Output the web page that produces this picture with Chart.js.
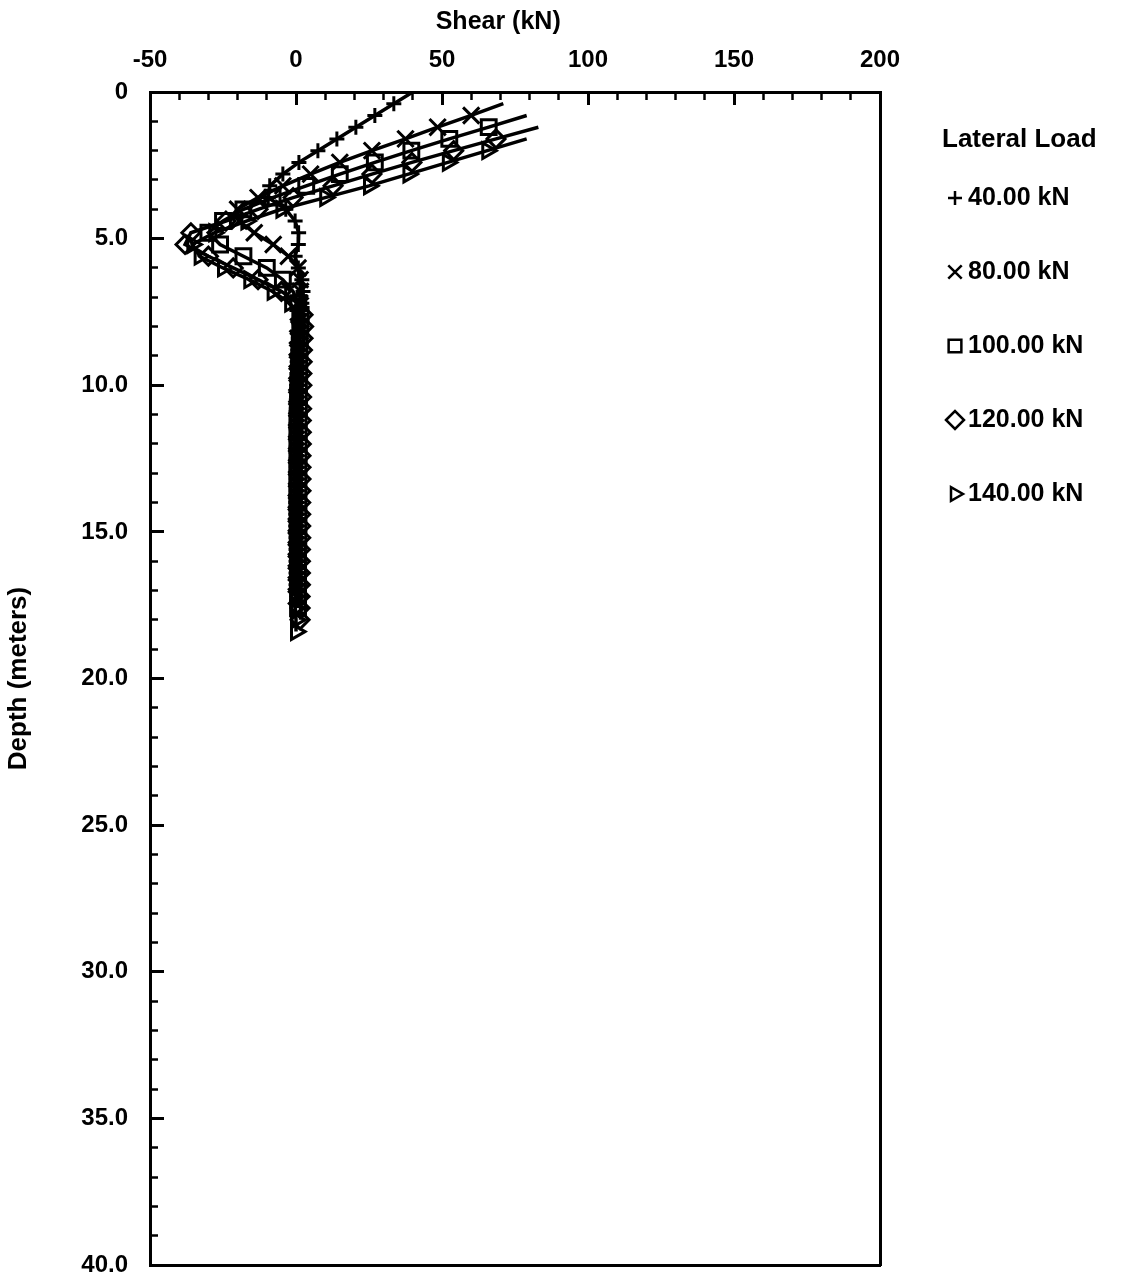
<!DOCTYPE html>
<html>
<head>
<meta charset="utf-8">
<script src="https://cdn.jsdelivr.net/npm/chart.js@4.4.0/dist/chart.umd.min.js"></script>
<style>
  html, body { margin: 0; padding: 0; background: #fff; }
  #wrap { width: 1121px; height: 1283px; position: relative; }
</style>
</head>
<body>
<div id="wrap"><canvas id="chart"></canvas></div>
<script>
// Pile depth at each computed node (m)
const depths = [0, 0.4, 0.8, 1.2, 1.6, 2.0, 2.4, 2.8, 3.2, 3.6, 4.0, 4.4, 4.8, 5.2, 5.6, 6.0,
  6.4, 6.8, 7.2, 7.6, 8.0, 8.4, 8.8, 9.2, 9.6, 10.0, 10.4, 10.8, 11.2, 11.6, 12.0, 12.4,
  12.8, 13.2, 13.6, 14.0, 14.4, 14.8, 15.2, 15.6, 16.0, 16.4, 16.8, 17.2, 17.6, 18.0, 18.4];

// Shear along the pile (kN) for each lateral load; null = no node plotted
const shear40 = [40, 33.5, 27, 20.5, 14, 7.5, 1, -4.5, -9, -9.5, -3.5, -0.3, 0.9, 0.8, -0.3, 0.8,
  2.0, 2.4, 2.0, 1.5, 1.1, 0.8, 0.6, 0.4, 0.3, 0.2, 0.2, 0.1, 0.1, 0.1,
  0.1, 0.1, 0, 0, 0, -0.1, -0.1, -0.1, 0, 0, 0, 0, 0, null, null, null, null];
const shear80 = [null, 71, 60, 48.5, 37.5, 26, 15, 5, -4.5, -13, -20, -19.5, -14.3, -7.8, -2.6, 0.7,
  1.4, 1.5, 1.3, 1.0, 0.8, 0.6, 0.5, 0.4,
  0.4, 0.3, 0.3, 0.3, 0.3, 0.2, 0.2, 0.2, 0.2, 0.2, 0.2, 0.1, 0.1, 0.1, 0.1, 0.1, 0.1, 0.1, 0.1, 0.1,
  null, null, null];
const shear100 = [null, null, 79, 66, 52.5, 39.5, 27, 15, 3.5, -8, -18, -25, -30, -26, -18, -10,
  -4.5, -1, 0.8, 1.6, 1.5, 1.3,
  1.2, 1.1, 1.1, 1.0, 1.0, 1.0, 0.9, 0.9, 0.9, 0.9, 0.8, 0.8, 0.8, 0.8, 0.8, 0.8, 0.8, 0.7, 0.7, 0.7,
  0.7, 0.7, 0.7, null, null];
const shear120 = [null, null, null, 83, 68.5, 54, 39.7, 26, 12.7, -1, -13, -24, -36, -38, -30, -21.5,
  -13, -5, 0.5, 2.4, 2.6, 2.4,
  2.2, 2.1, 2.0, 2.0, 1.9, 1.9, 1.8, 1.8, 1.8, 1.7, 1.7, 1.7, 1.7, 1.6, 1.6, 1.6, 1.6, 1.5, 1.5, 1.5,
  1.5, 1.4, 1.4, 1.4, null];
const shear140 = [null, null, null, null, 79, 65.5, 52, 38.5, 25, 10, -5, -17, -28, -35.5, -33, -25,
  -16, -8, -2, 0.5, 0.8, 0.6,
  0.3, 0.1, 0, -0.2, -0.3, -0.4, -0.5, -0.5, -0.5, -0.5, -0.5, -0.5, -0.5, -0.5, -0.4, -0.4, -0.4,
  -0.3, -0.3, -0.3, -0.2, -0.2, -0.1, 0, 0];

const loadLabels = ['40.00 kN', '80.00 kN', '100.00 kN', '120.00 kN', '140.00 kN'];
const shearTicks = [-50, 0, 50, 100, 150, 200];
const depthTicks = [0, 5, 10, 15, 20, 25, 30, 35, 40];
const depthTickLabels = ['0', '5.0', '10.0', '15.0', '20.0', '25.0', '30.0', '35.0', '40.0'];

const FONT = '"Liberation Sans", Arial, Helvetica, sans-serif';
const INK = '#000';
const CLEAR = 'rgba(0,0,0,0)';

// marker look per load: style, radius in plot, rotation, radius in key
const markers = [
  { style: 'cross',    r: 7.5,  rot: 0,  key: 7 },
  { style: 'crossRot', r: 11.5, rot: 0,  key: 9.5 },
  { style: 'rect',     r: 10.5, rot: 0,  key: 9 },
  { style: 'rectRot',  r: 9,    rot: 0,  key: 9 },
  { style: 'triangle', r: 9,    rot: 90, key: 8 }
];

const allShear = [shear40, shear80, shear100, shear120, shear140];

function toPoints(values) {
  const pts = [];
  values.forEach((v, i) => { if (v !== null) pts.push({ x: v, y: depths[i] }); });
  return pts;
}

const datasets = allShear.map((vals, i) => ({
  label: loadLabels[i],
  data: toPoints(vals),
  showLine: true,
  borderColor: INK,
  borderWidth: 3.5,
  pointStyle: markers[i].style,
  pointRotation: markers[i].rot,
  pointRadius: ctx => (ctx.dataIndex === 0 ? 0 : markers[i].r),
  pointBorderColor: INK,
  pointBackgroundColor: CLEAR,
  pointBorderWidth: 3,
  xAxisID: 'x',
  yAxisID: 'y'
}));

// Axis title above the shear axis and the load key at the right
const annotations = {
  id: 'annotations',
  afterDraw(chart) {
    const { ctx, chartArea } = chart;
    ctx.save();
    ctx.fillStyle = INK;
    ctx.font = 'bold 25px ' + FONT;
    ctx.textAlign = 'center';
    ctx.textBaseline = 'middle';
    const cx = chartArea.left + (chartArea.right - chartArea.left) * 0.477;
    ctx.fillText('Shear (kN)', cx, chartArea.top - 70);

    ctx.textAlign = 'left';
    ctx.font = 'bold 26px ' + FONT;
    ctx.fillText('Lateral Load', chartArea.right + 62, chartArea.top + 48);
    ctx.font = 'bold 25px ' + FONT;
    ctx.strokeStyle = INK;
    ctx.lineWidth = 2.5;
    loadLabels.forEach((lab, i) => {
      const y = chartArea.top + 106 + i * 74;
      ctx.fillStyle = CLEAR;
      Chart.helpers.drawPoint(ctx, {
        pointStyle: markers[i].style,
        radius: markers[i].key,
        rotation: markers[i].rot,
        borderWidth: 2.5
      }, chartArea.right + 75, y);
      ctx.fillStyle = INK;
      ctx.fillText(lab, chartArea.right + 88, y);
    });
    ctx.restore();
  }
};

const tickFont = { family: FONT, size: 24, weight: 'bold' };

// zero-width helper axes that only draw inward tick marks along a frame edge
function tickRow(position, step, len, width, vertical) {
  const o = {
    type: 'linear', position, weight: 0,
    ticks: { stepSize: step, display: false, autoSkip: false },
    grid: { drawOnChartArea: false, drawTicks: true, tickLength: len, tickWidth: width, tickColor: INK },
    border: { display: false }
  };
  if (vertical) {
    Object.assign(o, { reverse: true, min: 0, max: 40, afterFit: s => { s.width = 0; } });
  } else {
    Object.assign(o, { min: -50, max: 200, afterFit: s => { s.height = 0; } });
  }
  return o;
}

new Chart(document.getElementById('chart'), {
  type: 'scatter',
  data: { datasets },
  plugins: [annotations],
  options: {
    responsive: true,
    maintainAspectRatio: false,
    animation: false,
    layout: { padding: { top: 0, left: 0, right: 0, bottom: 18 } },
    plugins: { legend: { display: false }, tooltip: { enabled: false } },
    scales: {
      x: {
        type: 'linear', position: 'top', min: -50, max: 200, weight: 1,
        afterBuildTicks: s => { s.ticks = shearTicks.map(v => ({ value: v })); },
        ticks: { color: INK, font: tickFont, padding: 30, maxRotation: 0, autoSkip: false },
        grid: { drawOnChartArea: false, drawTicks: true, tickLength: -13, tickWidth: 3, tickColor: INK },
        border: { display: true, color: INK, width: 3 },
        afterFit: s => { s.height = 92; }
      },
      xMinor: tickRow('top', 10, -8, 2.5, false),
      xBottom: {
        type: 'linear', position: 'bottom', min: -50, max: 200,
        ticks: { display: false },
        grid: { drawOnChartArea: false, drawTicks: false },
        border: { display: true, color: INK, width: 3 },
        afterFit: s => { s.height = 0; }
      },
      y: {
        type: 'linear', position: 'left', reverse: true, min: 0, max: 40, weight: 1,
        afterBuildTicks: s => { s.ticks = depthTicks.map(v => ({ value: v })); },
        ticks: {
          color: INK, font: tickFont, padding: 0, autoSkip: false,
          callback: (v) => depthTickLabels[depthTicks.indexOf(v)]
        },
        title: { display: true, text: 'Depth (meters)', color: INK,
                 font: { family: FONT, size: 26, weight: 'bold' }, padding: { top: 3, bottom: 0 } },
        grid: { drawOnChartArea: false, drawTicks: true, tickLength: 22, tickColor: CLEAR },
        border: { display: true, color: INK, width: 3 },
        afterFit: s => { s.width = 150; }
      },
      yMajor: tickRow('left', 5, -14, 3, true),
      yMinor: tickRow('left', 1, -8, 2.5, true),
      yRight: {
        type: 'linear', position: 'right', reverse: true, min: 0, max: 40,
        ticks: { display: false },
        grid: { drawOnChartArea: false, drawTicks: false },
        border: { display: true, color: INK, width: 3 },
        afterFit: s => { s.width = 241; }
      }
    }
  }
});
</script>
</body>
</html>
